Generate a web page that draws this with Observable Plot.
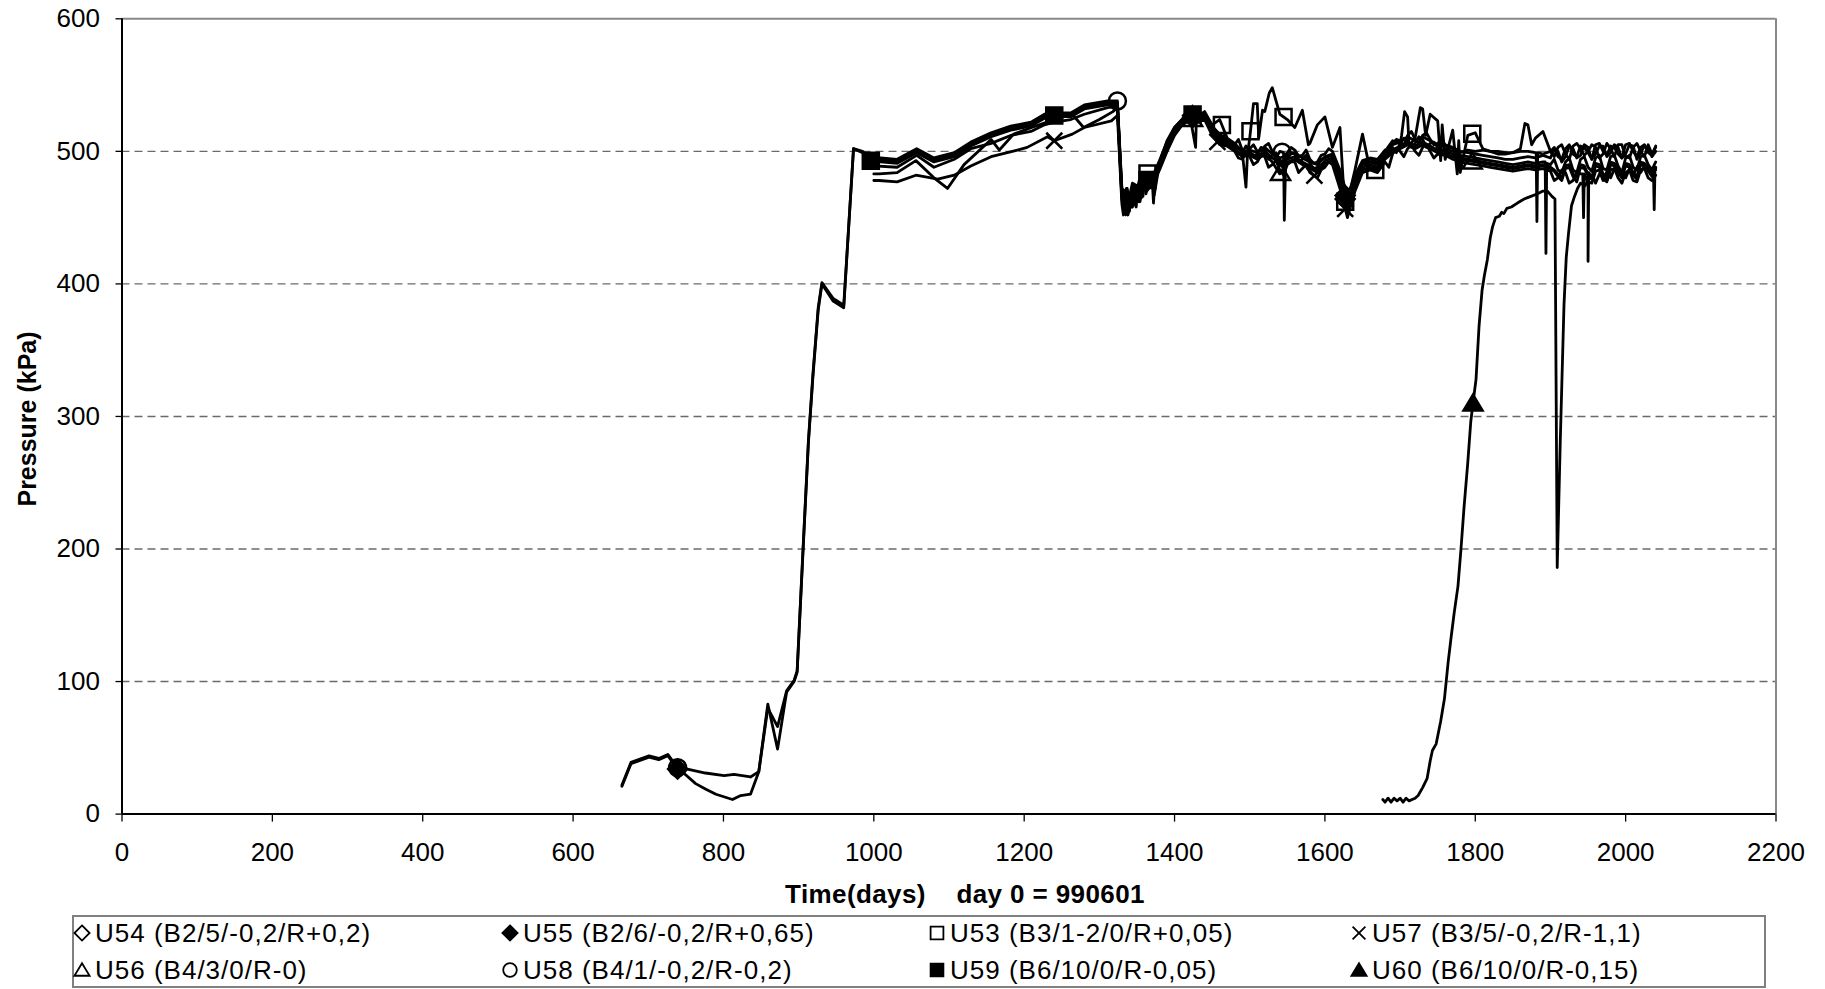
<!DOCTYPE html>
<html><head><meta charset="utf-8">
<script src="https://cdn.jsdelivr.net/npm/d3@7"></script>
<script src="https://cdn.jsdelivr.net/npm/@observablehq/plot@0.6"></script>
<style>
body{margin:0;background:#fff;}
#wrap{position:relative;width:1825px;height:989px;overflow:hidden;font-family:"Liberation Sans",Arial,sans-serif;background:#fff;}
#chart svg{position:absolute;left:0;top:0;}
#legend{position:absolute;left:72px;top:915px;width:1694px;height:73px;border:2px solid #808080;box-sizing:border-box;}
.li{position:absolute;white-space:nowrap;font-size:26px;letter-spacing:1px;line-height:26px;}
.lm{position:absolute;}
</style></head><body><div id="wrap"><div id="chart"></div><div id="legend"></div></div>
<script>
// ---------------- DATA ----------------
const seriesNames = ["U54 (B2/5/-0,2/R+0,2)","U55 (B2/6/-0,2/R+0,65)","U53 (B3/1-2/0/R+0,05)","U57 (B3/5/-0,2/R-1,1)",
                     "U56 (B4/3/0/R-0)","U58 (B4/1/-0,2/R-0,2)","U59 (B6/10/0/R-0,05)","U60 (B6/10/0/R-0,15)"];
const xTicks = [0,200,400,600,800,1000,1200,1400,1600,1800,2000,2200];
const yTicks = [0,100,200,300,400,500,600];
const gridLevels = [100,200,300,400,500];

// early parts [day, kPa]
const u55Early = [[665,21],[677,38],[701,43],[714,41],[726,44],[739,34],[747,31],[763,23],[776,19],[790,15],[812,11],[823,14],[836,15],[847,32],[859,83],[872,49],[884,92],[894,100],[898,107],[906,200],[913,280],[919,330],[926,380],[931,400],[946,387],[960,382],[973,502],[985,499],[996,494],[1009,494],[1031,493],[1057,501],[1080,494],[1107,498],[1129,506],[1156,513],[1182,518],[1209,521],[1227,527],[1240,528],[1262,528],[1280,534],[1311,537],[1324,537]];
const u58Early = [[665,22],[677,39],[701,44],[714,42],[726,45],[739,35],[752,34],[776,31],[801,29],[814,30],[836,28],[847,32],[859,80],[872,66],[884,93],[894,101],[898,108],[906,202],[913,282],[919,332],[926,382],[931,401],[946,389],[960,384],[973,502],[985,500],[996,495],[1009,495],[1031,494],[1057,502],[1080,495],[1107,499],[1129,507],[1156,514],[1182,519],[1209,522],[1227,528],[1240,529],[1262,529],[1280,535],[1311,538],[1324,538]];
const u59Early = [[996,493],[1009,492],[1031,491],[1057,499],[1080,492],[1107,496],[1129,504],[1156,511],[1182,516],[1209,519],[1227,525],[1240,527],[1262,526],[1280,532],[1311,535],[1324,535]];
const u53Early = [[1000,492],[1009,493],[1031,492],[1057,500],[1080,493],[1107,497],[1129,505],[1156,512],[1182,517],[1209,520],[1227,526],[1240,527],[1262,527],[1280,533],[1311,536],[1324,536]];
const u54Early = [[1000,483],[1007,483],[1031,484],[1056,493],[1080,480],[1098,472],[1120,490],[1156,509],[1167,501],[1186,513],[1210,518],[1235,523],[1264,528],[1279,518],[1300,524],[1318,530],[1324,533]];
const u56Early = [[1000,489],[1031,488],[1057,497],[1080,488],[1107,494],[1129,502],[1156,506],[1182,512],[1209,515],[1227,520],[1240,522],[1262,524],[1280,528],[1311,533],[1324,534]];
const u57Early = [[1000,478],[1007,478],[1031,477],[1056,482],[1085,479],[1107,482],[1129,489],[1156,496],[1191,501],[1204,503],[1231,511],[1240,508],[1264,513],[1280,518],[1316,523],[1324,527]];

// later part, common day grid
const noisyDays = [1330,1340,1350,1360,1370,1380,1390,1400,1410,1420,1430,1440,1450,1460,1470,1480,1490,1500,1510,1520,1530,1540,1550,1560,1570,1580,1590,1600,1610,1620,1630,1640,1650,1660,1670,1680,1690,1700,1710,1720,1730,1740,1750,1760,1770,1780,1790,1800,1810,1820,1830,1840,1850,1860,1870,1880,1890,1900,1910,1920,1930,1940,1950,1960,1970,1980,1990,2000,2010,2020,2030,2040];
const u53Late = [465,458,472,484,482,492,508,518,524,528, 526,530,520,524,510,506,500,510,536,530, 548,528,524,518,531,506,520,526,503,518, 462,486,513,486,486,500,508,506,526,510, 532,528,523,494,516,484,512,514,502,500, 498,498,499,502,520,510,515,500,503,498, 504,502,500,503,498,502,505,496,503,500, 505,503];
const u57Late = [460,455,466,476,474,486,500,512,520,524, 522,524,512,505,504,500,494,496,492,496, 490,486,490,492,487,484,480,488,490,472, 450,470,484,486,484,492,498,500,502,500, 503,500,498,497,494,492,491,490,489,488, 487,486,485,486,487,486,487,485,480,484, 478,483,477,485,479,486,480,484,478,486, 480,482];
const u55Late = [468,462,470,481,478,490,505,516,522,527, 527,527,516,510,507,503,499,500,498,502, 497,493,496,498,494,491,488,495,497,482, 460,478,490,492,490,498,503,506,509,506, 509,506,503,502,500,497,496,495,494,493, 492,491,490,491,492,491,492,490,486,492, 486,494,488,495,487,496,489,495,488,496, 490,492];
const u58Late = [472,466,474,484,480,493,507,518,524,528, 528,529,519,513,509,505,501,502,500,504, 500,500,499,501,497,494,492,498,500,486, 466,482,493,495,494,501,506,508,512,509, 512,509,506,505,503,500,499,498,497,496, 495,494,494,495,496,495,497,495,500,496, 502,497,503,498,504,499,503,498,504,499, 502,500];
const u59Late = [470,460,472,483,479,491,506,517,523,529, 526,528,518,512,508,504,500,501,499,503, 498,495,497,499,495,492,490,496,498,484, 463,480,491,494,492,500,505,507,511,508, 511,508,505,504,502,499,501,500,501,500, 500,499,499,500,500,499,498,500,496,502, 498,504,499,505,500,504,498,505,500,503, 499,504];
const u54Late = [466,457,468,479,476,488,503,514,521,526, 525,526,515,508,506,502,497,499,496,500, 495,491,494,496,492,489,486,493,495,478, 458,476,488,490,488,496,501,504,507,504, 507,504,501,500,498,495,494,493,492,491, 490,489,488,489,490,489,490,488,483,489, 483,490,484,491,483,492,486,491,484,492, 487,488];
const u56Late = [463,456,467,478,475,487,502,513,520,525, 524,525,514,507,505,501,496,497,494,498, 492,483,492,494,490,487,484,491,493,476, 456,474,486,488,487,494,499,502,505,502, 505,502,499,498,496,494,493,492,491,490, 489,488,487,488,489,488,489,487,481,487, 481,488,482,489,481,490,484,489,482,490, 485,486];

// extra readings between grid days (spikes and zigzags) [day, kPa]
const u53Spikes = [[1335,452],[1337,470],[1345,462],[1372,461],[1374,480],[1428,503],[1429,524],[1495,473],[1497,498],[1505,536],[1512,510],[1517,531],[1526,544],[1578,505],[1626,462],[1702,512],[1706,530],[1712,504],[1727,533],[1734,512],[1754,493],[1756,520],[1776,483],[1778,508],[1866,521],[1875,505],
  [1905,496],[1915,505],[1925,494],[1935,506],[1945,497],[1955,505],[1965,495],[1975,506],[1985,496],[1995,505],[2005,495],[2015,506],[2025,496],[2035,498]];
const u55Spikes = [[1333,455],[1337,472],[1344,458],[1347,462],[1353,478],[1356,465],[1367,484],
  [1485,498],[1495,504],[1505,496],[1515,503],[1525,494],[1535,499],[1545,489],[1555,499],[1565,492],[1575,497],[1585,487],[1595,494],
  [1685,502],[1695,499],[1705,510],[1715,503],[1725,511],[1735,503],[1745,507],[1755,500],
  [1893,492],[1894,423],[1895,491],
  [1905,494],[1915,484],[1925,495],[1935,484],[1945,496],[1955,485],[1965,497],[1975,486],[1985,497],[1995,484],[2005,497],[2015,486],[2025,497],[2035,486]];
const u57Spikes = [[1332,452],[1338,468],[1343,470],[1349,458],[1354,474],[1362,468],[1366,480],
  [1485,495],[1495,499],[1505,490],[1515,497],[1525,488],[1535,493],[1545,482],[1555,492],[1565,484],[1575,490],[1595,486],[1605,492],
  [1685,488],[1695,502],[1705,496],[1715,505],[1725,497],[1735,505],[1745,495],
  [1905,478],[1915,486],[1925,476],[1935,484],[1943,483],[1944,450],[1945,483],[1955,476],[1965,486],[1975,477],[1985,487],[1995,476],[2005,486],[2015,477],[2025,487],[2035,478]];
const u54Spikes = [[1332,470],[1334,454],[1336,456],[1345,474],[1348,460],[1355,480],[1358,466],[1365,482],
  [1905,486],[1915,480],[1925,490],[1935,481],[1945,489],[1949,484],[1950,417],[1951,484],[1955,480],[1965,490],[1975,481],[1985,491],[1995,482],[2005,490],[2015,481],[2025,491],[2035,483]];
const u56Spikes = [[1333,468],[1338,452],[1341,460],[1346,470],[1352,462],[1357,476],[1363,470],
  [1905,485],[1915,478],[1925,488],[1935,477],[1945,487],[1955,479],[1965,488],[1975,478],[1985,489],[1995,480],[2005,488],[2015,479],[2025,489],[2035,481],[2037,485],[2038,456],[2039,486]];
const u58Spikes = [[1334,470],[1339,461],[1344,476],[1351,466],[1356,480],[1364,472],
  [1485,509],[1495,498],[1505,505],[1515,497],[1525,506],[1535,495],[1545,499],[1546,448],[1548,498],[1555,503],[1565,496],[1575,501],[1585,491],[1595,497],[1605,502],
  [1685,498],[1695,509],[1705,504],[1715,515],[1725,506],[1735,514],[1745,505],[1755,509],
  [1905,502],[1915,492],[1925,504],[1935,495],[1945,505],[1955,494],[1965,504],[1975,496],[1985,505],[1995,495],[2005,505],[2015,494],[2025,504],[2035,496]];
const u59Spikes = [[1333,462],[1336,472],[1343,458],[1348,474],[1354,462],[1366,476],[1373,467],
  [1881,499],[1882,447],[1883,499],
  [1905,503],[1915,494],[1925,505],[1935,496],[1945,503],[1955,494],[1965,506],[1975,497],[1985,503],[1995,495],[2005,506],[2015,496],[2025,505],[2035,497]];

const u60Data = [[1677,11],[1680,9],[1684,12],[1688,9],[1692,12],[1696,10],[1700,12],[1704,9],[1708,12],[1712,10],[1716,11],[1720,12],[1724,14],[1730,20],[1736,27],[1740,40],[1743,48],[1748,53],[1754,70],[1759,87],[1764,115],[1768,134],[1772,152],[1777,172],[1781,200],[1785,231],[1790,265],[1794,296],[1797,310],[1801,328],[1805,368],[1809,395],[1812,406],[1816,418],[1820,435],[1823,443],[1827,450],[1832,451],[1835,454],[1838,453],[1842,457],[1848,458],[1856,461],[1865,464],[1874,466],[1883,468],[1890,470],[1896,470],[1902,466],[1906,464],[1909,186],[1913,280],[1918,384],[1921,420],[1924,438],[1928,459],[1932,466],[1936,472],[1940,476],[1946,474],[1950,478],[1956,482],[1960,476],[1966,484],[1970,478],[1976,486],[1980,480],[1986,488],[1990,482],[1996,486],[2000,480],[2006,488],[2010,482],[2016,489],[2020,484],[2026,490],[2030,485],[2040,487]];

// marker days per series
const markerDays = {
  "U54": [1424,1627],
  "U55": [739,1424,1627],
  "U53": [1364,1463,1501,1545,1627,1667,1796],
  "U57": [1240,1457,1586,1627],
  "U56": [1424,1541,1796],
  "U58": [739,1324,1543],
  "U59": [996,1240,1364,1424],
  "U60": [1797]
};

// ---------------- BUILD ----------------
function late(vals){ return noisyDays.map((d,i)=>[d, vals[i]]); }
const raw = {
  "U54": [...u54Early, ...late(u54Late), ...u54Spikes],
  "U55": [...u55Early, ...late(u55Late), ...u55Spikes],
  "U53": [...u53Early, ...late(u53Late), ...u53Spikes],
  "U57": [...u57Early, ...late(u57Late), ...u57Spikes],
  "U56": [...u56Early, ...late(u56Late), ...u56Spikes],
  "U58": [...u58Early, ...late(u58Late), ...u58Spikes],
  "U59": [...u59Early, ...late(u59Late), ...u59Spikes],
  "U60": [...u60Data]
};
const ids = ["U54","U55","U53","U57","U56","U58","U59","U60"];
const rows = [];
for (const id of ids) {
  raw[id].sort((a,b)=>a[0]-b[0]);
  for (const [d,v] of raw[id]) rows.push({series:id, day:d, kPa:v});
}
function valueAt(id, day){
  const pts = raw[id];
  for (let i=0;i<pts.length-1;i++){
    if (pts[i][0] <= day && pts[i+1][0] >= day){
      const t = (day-pts[i][0])/((pts[i+1][0]-pts[i][0])||1);
      return pts[i][1] + t*(pts[i+1][1]-pts[i][1]);
    }
  }
  return pts[pts.length-1][1];
}

// custom marker shapes
const R = Math.PI;
const symbols = {
  diamond:{draw(c,s){const r=Math.sqrt(s/R)*0.95;c.moveTo(0,-r);c.lineTo(r,0);c.lineTo(0,r);c.lineTo(-r,0);c.closePath();}},
  square:{draw(c,s){const r=Math.sqrt(s/R)*0.8;c.rect(-r,-r,2*r,2*r);}},
  circle:{draw(c,s){const r=Math.sqrt(s/R)*0.85;c.moveTo(r,0);c.arc(0,0,r,0,2*Math.PI);}},
  triangle:{draw(c,s){const r=Math.sqrt(s/R);c.moveTo(0,-r*0.85);c.lineTo(r*0.95,r*0.72);c.lineTo(-r*0.95,r*0.72);c.closePath();}},
  times:{draw(c,s){const r=Math.sqrt(s/R)*0.8;c.moveTo(-r,-r);c.lineTo(r,r);c.moveTo(r,-r);c.lineTo(-r,r);}}
};
const style = {
  "U54":{sym:"diamond",fill:false}, "U55":{sym:"diamond",fill:true}, "U53":{sym:"square",fill:false}, "U57":{sym:"times",fill:false},
  "U56":{sym:"triangle",fill:false}, "U58":{sym:"circle",fill:false}, "U59":{sym:"square",fill:true}, "U60":{sym:"triangle",fill:true}
};

const dotMarks = ids.map(id => Plot.dot(
  markerDays[id].map(d => ({day:d, kPa:valueAt(id,d)})),
  {x:"day", y:"kPa", r:10, symbol: symbols[style[id].sym], stroke:"#000", strokeWidth:2.5,
   fill: style[id].fill ? "#000" : "none"}
));

const chart = Plot.plot({
  width: 1825, height: 912,
  marginLeft: 121.5, marginRight: 49.5, marginTop: 18.3, marginBottom: 98.4,
  style: {fontFamily: "'Liberation Sans', Arial, sans-serif", fontSize: "26px", background: "transparent", color:"#000"},
  x: {domain:[0,2200]},
  y: {domain:[0,600]},
  marks: [
    Plot.ruleY(gridLevels, {stroke:"#6a6a6a", strokeWidth:1.4, strokeDasharray:"8,5"}),
    Plot.ruleY([600], {stroke:"#888", strokeWidth:2}),
    Plot.ruleX([2200], {stroke:"#888", strokeWidth:2}),
    Plot.axisX({ticks:xTicks, tickSize:8, tickPadding:20, tickFormat:d=>String(d), label:null, strokeWidth:1.3}),
    Plot.axisY({ticks:yTicks, tickSize:6, tickPadding:16, tickFormat:d=>String(d), label:null, strokeWidth:1.3}),
    Plot.line(rows, {x:"day", y:"kPa", z:"series", stroke:"#000", strokeWidth:2.8, strokeLinejoin:"round"}),
    ...dotMarks,
    Plot.ruleX([0], {stroke:"#000", strokeWidth:2}),
    Plot.ruleY([0], {stroke:"#000", strokeWidth:2})
  ]
});
document.getElementById("chart").append(chart);

const svg = d3.select(chart);
svg.append("text")
  .attr("transform","translate(27,419) rotate(-90)")
  .attr("text-anchor","middle").attr("dy","0.35em")
  .style("font-weight","bold").style("font-size","25px")
  .text("Pressure (kPa)");
svg.append("text")
  .attr("x",965).attr("y",894).attr("dy","0.35em")
  .attr("text-anchor","middle")
  .style("font-weight","bold").style("font-size","26px").style("white-space","pre").style("letter-spacing","0.4px")
  .text("Time(days)    day 0 = 990601");

// legend
const legend = d3.select("#legend");
const colX = [8, 436, 863, 1285];
const rowY = [16, 53];
const order = [["U54","U55","U53","U57"],["U56","U58","U59","U60"]];
order.forEach((row, ri) => row.forEach((id, ci) => {
  const i = ids.indexOf(id);
  const cx = colX[ci], cy = rowY[ri];
  const m = legend.append("svg").attr("class","lm").attr("width",20).attr("height",20)
    .style("left",(cx-10)+"px").style("top",(cy-10)+"px");
  const p = d3.path();
  symbols[style[id].sym].draw(p, Math.PI*8*8);
  m.append("path").attr("d", p.toString()).attr("transform","translate(10,10)")
    .attr("stroke","#000").attr("stroke-width",1.8).attr("fill", style[id].fill ? "#000" : "none");
  legend.append("div").attr("class","li").style("left",(cx+13)+"px").style("top",(cy-13)+"px").text(seriesNames[i]);
}));
</script>
</body></html>
